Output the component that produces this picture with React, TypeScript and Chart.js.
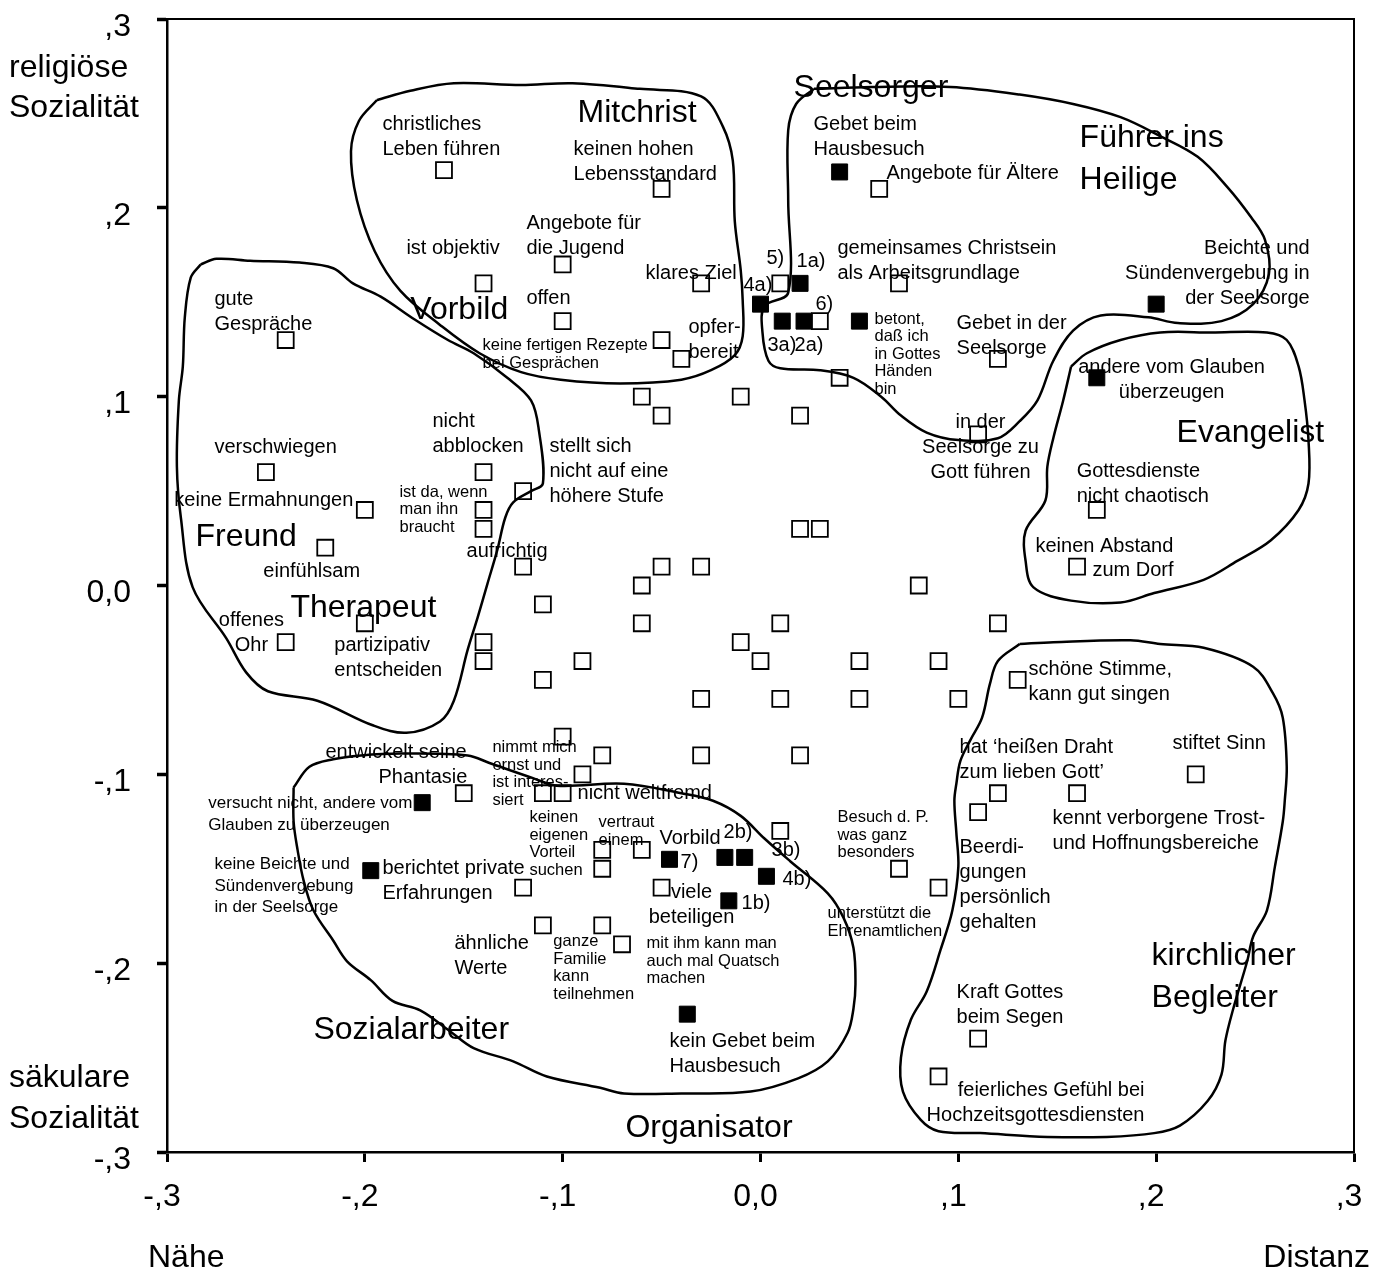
import React, { useEffect, useRef } from 'react';
import { Chart, registerables } from 'chart.js';

Chart.register(...registerables);

const FONT = '"Liberation Sans", Arial, Helvetica, sans-serif';

// ---- tick labels ----
const xTickLabels = ['-,3', '-,2', '-,1', '0,0', ',1', ',2', ',3'];
const yTickLabels = ['-,3', '-,2', '-,1', '0,0', ',1', ',2', ',3'];

// ---- items (open squares) ----
const openPoints: [number, number][] = [
  [-0.24, 0.13], [-0.16, 0.22], [-0.05, 0.21], [-0.10, 0.17], [-0.14, 0.16], [-0.03, 0.16],
  [-0.10, 0.14], [-0.05, 0.13], [-0.04, 0.12], [-0.06, 0.10], [-0.05, 0.09], [-0.01, 0.10],
  [0.01, 0.16], [0.03, 0.14], [0.06, 0.21], [0.07, 0.16], [0.12, 0.12], [0.04, 0.11],
  [0.02, 0.09], [0.11, 0.08], [0.17, 0.04], [0.16, 0.01], [-0.25, 0.06], [-0.20, 0.04],
  [-0.22, 0.02], [-0.24, -0.03], [-0.20, -0.02], [-0.14, 0.06], [-0.14, 0.04], [-0.14, 0.03],
  [-0.12, 0.05], [-0.12, 0.01], [-0.11, -0.01], [-0.14, -0.03], [-0.14, -0.04], [-0.09, -0.04],
  [-0.11, -0.05], [-0.06, 0.0], [-0.05, 0.01], [-0.06, -0.02], [-0.03, 0.01], [-0.03, -0.06],
  [-0.10, -0.08], [-0.08, -0.09], [-0.09, -0.10], [-0.15, -0.11], [-0.11, -0.11], [-0.10, -0.11],
  [-0.03, -0.09], [0.02, 0.03], [0.03, 0.03], [0.08, 0.0], [0.01, -0.02], [-0.01, -0.03],
  [0.0, -0.04], [0.05, -0.04], [0.09, -0.04], [0.12, -0.02], [0.13, -0.05], [0.01, -0.06],
  [0.05, -0.06], [0.10, -0.06], [0.02, -0.09], [0.12, -0.11], [0.11, -0.12], [0.22, -0.10],
  [0.16, -0.11], [-0.08, -0.14], [-0.08, -0.15], [-0.06, -0.14], [-0.12, -0.16], [-0.05, -0.16],
  [-0.11, -0.18], [-0.08, -0.18], [-0.07, -0.19], [0.01, -0.13], [0.07, -0.15], [0.09, -0.16],
  [0.11, -0.24], [0.09, -0.26],
];

// ---- items (filled squares) ----
const filledPoints: [number, number][] = [
  [0.04, 0.219], [0.02, 0.16], [0.0, 0.149], [0.011, 0.14], [0.022, 0.14], [0.05, 0.14],
  [0.20, 0.149], [0.17, 0.11], [-0.171, -0.115], [-0.197, -0.151], [-0.046, -0.145],
  [-0.018, -0.144], [-0.008, -0.144], [0.003, -0.154], [-0.016, -0.167], [-0.037, -0.227],
];

// ---- cluster outlines ----
const outlineMitchrist: [number, number][] = [
  [-0.194, 0.257], [-0.177, 0.262], [-0.155, 0.266], [-0.121, 0.265], [-0.095, 0.266], [-0.061, 0.263],
  [-0.030, 0.259], [-0.019, 0.243], [-0.014, 0.225], [-0.013, 0.193], [-0.010, 0.167], [-0.009, 0.151],
  [-0.009, 0.132], [-0.013, 0.122], [-0.025, 0.114], [-0.040, 0.109], [-0.071, 0.107], [-0.101, 0.109],
  [-0.121, 0.113], [-0.142, 0.123], [-0.162, 0.138], [-0.182, 0.156], [-0.195, 0.177], [-0.204, 0.204],
  [-0.207, 0.230], [-0.203, 0.246], [-0.194, 0.257],
];
const outlineSeelsorger: [number, number][] = [
  [0.027, 0.263], [0.056, 0.264], [0.096, 0.264], [0.131, 0.260], [0.158, 0.255], [0.182, 0.248],
  [0.202, 0.238], [0.221, 0.227], [0.236, 0.211], [0.248, 0.195], [0.255, 0.183], [0.257, 0.165],
  [0.249, 0.149], [0.233, 0.140], [0.211, 0.139], [0.196, 0.142], [0.172, 0.143], [0.158, 0.135],
  [0.148, 0.119], [0.140, 0.098], [0.131, 0.087], [0.120, 0.078], [0.100, 0.077], [0.084, 0.081],
  [0.071, 0.090], [0.061, 0.100], [0.047, 0.110], [0.030, 0.114], [0.010, 0.115], [0.004, 0.119],
  [0.001, 0.134], [0.002, 0.148], [0.014, 0.155], [0.014, 0.204], [0.014, 0.241], [0.018, 0.255],
  [0.027, 0.263],
];
const outlineFreund: [number, number][] = [
  [-0.283, 0.170], [-0.275, 0.173], [-0.258, 0.172], [-0.233, 0.171], [-0.216, 0.168], [-0.206, 0.160],
  [-0.192, 0.153], [-0.175, 0.141], [-0.158, 0.130], [-0.145, 0.123], [-0.128, 0.110], [-0.116, 0.098],
  [-0.112, 0.082], [-0.110, 0.054], [-0.116, 0.050], [-0.125, 0.044], [-0.129, 0.036], [-0.133, 0.019],
  [-0.138, 0.001], [-0.143, -0.017], [-0.148, -0.034], [-0.155, -0.061], [-0.162, -0.072], [-0.179, -0.078],
  [-0.196, -0.074], [-0.224, -0.061], [-0.249, -0.056], [-0.260, -0.046], [-0.270, -0.028], [-0.287, -0.001],
  [-0.293, 0.036], [-0.295, 0.063], [-0.294, 0.098], [-0.292, 0.116], [-0.291, 0.142], [-0.288, 0.163],
  [-0.283, 0.170],
];
const outlineEvangelist: [number, number][] = [
  [0.157, 0.116], [0.165, 0.123], [0.182, 0.130], [0.202, 0.134], [0.228, 0.134], [0.256, 0.134],
  [0.266, 0.130], [0.272, 0.116], [0.275, 0.098], [0.277, 0.077], [0.277, 0.054], [0.272, 0.040],
  [0.258, 0.024], [0.241, 0.013], [0.224, 0.003], [0.199, -0.004], [0.182, -0.009], [0.157, -0.008],
  [0.138, -0.001], [0.134, 0.013], [0.134, 0.029], [0.144, 0.045], [0.145, 0.063], [0.148, 0.078],
  [0.153, 0.098], [0.157, 0.116],
];
const outlineSozialarbeiter: [number, number][] = [
  [-0.236, -0.107], [-0.228, -0.096], [-0.216, -0.092], [-0.202, -0.090], [-0.182, -0.089], [-0.148, -0.090],
  [-0.137, -0.094], [-0.115, -0.102], [-0.103, -0.106], [-0.069, -0.105], [-0.040, -0.110], [-0.024, -0.114],
  [-0.010, -0.122], [0.002, -0.134], [0.015, -0.146], [0.034, -0.163], [0.042, -0.176], [0.047, -0.192],
  [0.048, -0.211], [0.047, -0.224], [0.044, -0.237], [0.034, -0.252], [0.019, -0.261], [-0.005, -0.268],
  [-0.040, -0.269], [-0.069, -0.269], [-0.081, -0.266], [-0.108, -0.260], [-0.125, -0.252], [-0.145, -0.245],
  [-0.157, -0.236], [-0.172, -0.225], [-0.186, -0.220], [-0.197, -0.209], [-0.209, -0.199], [-0.216, -0.188],
  [-0.226, -0.172], [-0.231, -0.156], [-0.234, -0.140], [-0.236, -0.125], [-0.236, -0.107],
];
const outlineBegleiter: [number, number][] = [
  [0.131, -0.031], [0.148, -0.030], [0.187, -0.029], [0.202, -0.031], [0.224, -0.033], [0.249, -0.043],
  [0.259, -0.057], [0.264, -0.070], [0.266, -0.096], [0.265, -0.114], [0.264, -0.125], [0.260, -0.149],
  [0.256, -0.172], [0.249, -0.186], [0.246, -0.199], [0.239, -0.224], [0.235, -0.241], [0.233, -0.259],
  [0.226, -0.273], [0.212, -0.286], [0.199, -0.290], [0.175, -0.292], [0.145, -0.292], [0.111, -0.290],
  [0.090, -0.289], [0.081, -0.283], [0.072, -0.268], [0.071, -0.250], [0.076, -0.230], [0.084, -0.215],
  [0.091, -0.193], [0.097, -0.172], [0.100, -0.149], [0.099, -0.131], [0.098, -0.114], [0.099, -0.105],
  [0.101, -0.093], [0.106, -0.082], [0.112, -0.070], [0.116, -0.052], [0.120, -0.040], [0.131, -0.031],
];

// ---- labels: text, x, y (data units), kind, align ----
type Kind = 'big' | 'small' | 'tiny' | 'tinyWide';
const clusterLabels: [string, number, number, Kind, CanvasTextAlign?][] = [
  ['Mitchrist', -0.0925, 0.25, 'big'],
  ['Seelsorger', 0.0167, 0.2632, 'big'],
  ['Führer ins\nHeilige', 0.1613, 0.2368, 'big'],
  ['Vorbild', -0.177, 0.1457, 'big'],
  ['Evangelist', 0.2103, 0.0805, 'big'],
  ['Freund', -0.2856, 0.0254, 'big'],
  ['Therapeut', -0.2376, -0.0122, 'big'],
  ['Sozialarbeiter', -0.226, -0.2357, 'big'],
  ['Organisator', -0.0683, -0.2876, 'big'],
  ['kirchlicher\nBegleiter', 0.1977, -0.1965, 'big'],
];
const itemLabels: [string, number, number, Kind, CanvasTextAlign?][] = [
  ['gute\nGespräche', -0.276, 0.1515, 'small'],
  ['christliches\nLeben führen', -0.1911, 0.2442, 'small'],
  ['keinen hohen\nLebensstandard', -0.0945, 0.2309, 'small'],
  ['Angebote für\ndie Jugend', -0.1183, 0.1917, 'small'],
  ['ist objektiv', -0.179, 0.1785, 'small'],
  ['klares Ziel', -0.0581, 0.1653, 'small'],
  ['offen', -0.1183, 0.152, 'small'],
  ['opfer-\nbereit', -0.0364, 0.1367, 'small'],
  ['Gebet beim\nHausbesuch', 0.0268, 0.2442, 'small'],
  ['Angebote für Ältere', 0.0637, 0.2182, 'small'],
  ['gemeinsames Christsein\nals Arbeitsgrundlage', 0.0389, 0.1785, 'small'],
  ['Gebet in der\nSeelsorge', 0.0991, 0.1388, 'small'],
  ['Beichte und\nSündenvergebung in\nder Seelsorge', 0.2776, 0.1785, 'small', 'right'],
  ['andere vom Glauben\nüberzeugen', 0.2078, 0.1155, 'small', 'center'],
  ['in der\nSeelsorge zu\nGott führen', 0.1112, 0.0863, 'small', 'center'],
  ['Gottesdienste\nnicht chaotisch', 0.1598, 0.0604, 'small'],
  ['keinen Abstand', 0.139, 0.0207, 'small'],
  ['zum Dorf', 0.1678, 0.0079, 'small'],
  ['verschwiegen', -0.276, 0.0731, 'small'],
  ['keine Ermahnungen', -0.2963, 0.045, 'small'],
  ['einfühlsam', -0.2513, 0.0074, 'small'],
  ['offenes\nOhr', -0.2573, -0.0185, 'small', 'center'],
  ['partizipativ\nentscheiden', -0.2154, -0.0318, 'small'],
  ['nicht\nabblocken', -0.1658, 0.0869, 'small'],
  ['stellt sich\nnicht auf eine\nhöhere Stufe', -0.1067, 0.0736, 'small'],
  ['aufrichtig', -0.1486, 0.018, 'small'],
  ['entwickelt seine', -0.2199, -0.0885, 'small'],
  ['Phantasie', -0.1931, -0.1017, 'small'],
  ['nicht weltfremd', -0.0925, -0.1102, 'small'],
  ['schöne Stimme,\nkann gut singen', 0.1355, -0.0445, 'small'],
  ['hat ‘heißen Draht\nzum lieben Gott’', 0.1006, -0.0858, 'small'],
  ['stiftet Sinn', 0.2083, -0.0837, 'small'],
  ['kennt verborgene Trost-\nund Hoffnungsbereiche', 0.1476, -0.1234, 'small'],
  ['Beerdi-\ngungen\npersönlich\ngehalten', 0.1006, -0.1388, 'small'],
  ['Kraft Gottes\nbeim Segen', 0.0991, -0.2156, 'small'],
  ['feierliches Gefühl bei\nHochzeitsgottesdiensten', 0.1941, -0.2675, 'small', 'right'],
  ['kein Gebet beim\nHausbesuch', -0.046, -0.2415, 'small'],
  ['berichtet private\nErfahrungen', -0.1911, -0.1499, 'small'],
  ['ähnliche\nWerte', -0.1547, -0.1896, 'small'],
  ['Vorbild', -0.0511, -0.134, 'small'],
  ['viele\nbeteiligen', -0.0349, -0.1626, 'small', 'center'],
  ['5)', 0.003, 0.1732, 'small'],
  ['1a)', 0.0182, 0.1716, 'small'],
  ['4a)', -0.0086, 0.1589, 'small'],
  ['6)', 0.0278, 0.1488, 'small'],
  ['3a)', 0.0035, 0.1271, 'small'],
  ['2a)', 0.0172, 0.1271, 'small'],
  ['7)', -0.0404, -0.1467, 'small'],
  ['2b)', -0.0187, -0.1308, 'small'],
  ['3b)', 0.0056, -0.1404, 'small'],
  ['4b)', 0.0111, -0.1557, 'small'],
  ['1b)', -0.0096, -0.1684, 'small'],
  ['keine fertigen Rezepte\nbei Gesprächen', -0.1405, 0.1271, 'tiny'],
  ['betont,\ndaß ich\nin Gottes\nHänden\nbin', 0.0576, 0.1409, 'tiny'],
  ['ist da, wenn\nman ihn\nbraucht', -0.1825, 0.0493, 'tiny'],
  ['nimmt mich\nernst und\nist interes-\nsiert', -0.1355, -0.0858, 'tiny'],
  ['keinen\neigenen\nVorteil\nsuchen', -0.1168, -0.1229, 'tiny'],
  ['vertraut\neinem', -0.0819, -0.1255, 'tiny'],
  ['ganze\nFamilie\nkann\nteilnehmen', -0.1047, -0.1886, 'tiny'],
  ['mit ihm kann man\nauch mal Quatsch\nmachen', -0.0576, -0.1896, 'tiny'],
  ['Besuch d. P.\nwas ganz\nbesonders', 0.0389, -0.1229, 'tiny'],
  ['unterstützt die\nEhrenamtlichen', 0.0339, -0.1737, 'tiny'],
  ['versucht nicht, andere vom\nGlauben zu überzeugen', -0.2791, -0.1155, 'tinyWide'],
  ['keine Beichte und\nSündenvergebung\nin der Seelsorge', -0.276, -0.1478, 'tinyWide'],
];

const STYLES: Record<Kind, { size: number; lh: number }> = {
  big: { size: 32, lh: 42 },
  small: { size: 20, lh: 25 },
  tiny: { size: 16.5, lh: 17.5 },
  tinyWide: { size: 17, lh: 21.5 },
};

const toXY = (arr: [number, number][]) => arr.map(([x, y]) => ({ x, y }));

const annotatePlugin = {
  id: 'annotate',
  afterDatasetsDraw(chart: any) {
    const { ctx, chartArea: a, scales } = chart;
    const xs = scales.x;
    const ys = scales.y;
    ctx.save();
    ctx.strokeStyle = '#000';
    ctx.lineWidth = 2;
    ctx.beginPath();
    ctx.moveTo(a.left, a.top);
    ctx.lineTo(a.right, a.top);
    ctx.lineTo(a.right, a.bottom);
    ctx.stroke();

    ctx.fillStyle = '#000';
    ctx.textBaseline = 'middle';
    const drawSet = (list: [string, number, number, Kind, CanvasTextAlign?][]) => {
      for (const [text, vx, vy, kind, align] of list) {
        const st = STYLES[kind];
        ctx.font = `${st.size}px ${FONT}`;
        ctx.textAlign = align || 'left';
        const px = xs.getPixelForValue(vx);
        const py = ys.getPixelForValue(vy);
        text.split('\n').forEach((line, i) => ctx.fillText(line, px, py + i * st.lh));
      }
    };
    drawSet(itemLabels);
    drawSet(clusterLabels);

    // axis pole labels
    ctx.font = `32px ${FONT}`;
    ctx.textBaseline = 'alphabetic';
    ctx.textAlign = 'left';
    ctx.fillText('religiöse', 9, a.top + 58);
    ctx.fillText('Sozialität', 9, a.top + 98);
    ctx.fillText('säkulare', 9, a.bottom - 65);
    ctx.fillText('Sozialität', 9, a.bottom - 24);
    ctx.fillText('Nähe', 148, a.bottom + 115);
    ctx.textAlign = 'right';
    ctx.fillText('Distanz', a.right + 16, a.bottom + 115);
    ctx.restore();
  },
};

export default function App() {
  const ref = useRef<HTMLCanvasElement | null>(null);
  useEffect(() => {
    if (!ref.current) return;
    const outline = (pts: [number, number][]) => ({
      type: 'scatter' as const,
      data: toXY(pts),
      showLine: true,
      borderColor: '#000',
      borderWidth: 2.5,
      pointRadius: 0,
      tension: 0.35,
      fill: false,
    });
    const chart = new Chart(ref.current, {
      type: 'scatter',
      data: {
        datasets: [
          outline(outlineMitchrist),
          outline(outlineSeelsorger),
          outline(outlineFreund),
          outline(outlineEvangelist),
          outline(outlineSozialarbeiter),
          outline(outlineBegleiter),
          {
            data: toXY(openPoints),
            pointStyle: 'rect',
            pointRadius: 11.3,
            borderWidth: 1.8,
            borderColor: '#000',
            backgroundColor: 'rgba(0,0,0,0)',
          },
          {
            data: toXY(filledPoints),
            pointStyle: 'rect',
            pointRadius: 11.3,
            borderWidth: 1,
            borderColor: '#000',
            backgroundColor: '#000',
          },
        ] as any,
      },
      options: {
        animation: false,
        responsive: false,
        devicePixelRatio: 1,
        layout: { padding: { top: 19, right: 34, left: 0, bottom: 0 } },
        plugins: { legend: { display: false }, tooltip: { enabled: false } },
        scales: {
          x: {
            type: 'linear',
            min: -0.3,
            max: 0.3,
            afterFit: (s: any) => { s.height = 123; s.paddingLeft = 0; s.paddingRight = 0; },
            grid: { drawOnChartArea: false, drawTicks: true, tickLength: 10, tickWidth: 3, tickColor: '#000' },
            border: { color: '#000', width: 2.5 },
            ticks: {
              stepSize: 0.1,
              autoSkip: false,
              maxRotation: 0,
              padding: 16,
              labelOffset: -5,
              color: '#000',
              font: { size: 32, family: FONT },
              callback: (_v: any, i: number) => xTickLabels[i],
            },
          },
          y: {
            type: 'linear',
            min: -0.3,
            max: 0.3,
            afterFit: (s: any) => { s.width = 167; s.paddingTop = 0; s.paddingBottom = 0; },
            grid: { drawOnChartArea: false, drawTicks: true, tickLength: 10, tickWidth: 3.5, tickColor: '#000' },
            border: { color: '#000', width: 2.5 },
            ticks: {
              stepSize: 0.1,
              autoSkip: false,
              padding: 26,
              labelOffset: 8,
              color: '#000',
              font: { size: 32, family: FONT },
              callback: (_v: any, i: number) => yTickLabels[i],
            },
          },
        },
      } as any,
      plugins: [annotatePlugin],
    });
    return () => chart.destroy();
  }, []);
  return (
    <div style={{ position: 'absolute', left: 0, top: 0, width: 1388, height: 1275, background: '#fff' }}>
      <canvas ref={ref} width={1388} height={1275} style={{ width: 1388, height: 1275, display: 'block' }} />
    </div>
  );
}
